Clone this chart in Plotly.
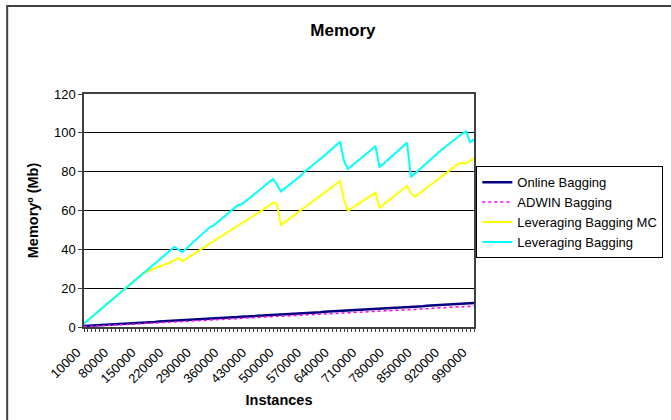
import plotly.graph_objects as go

# Instances processed: 10000 .. 1000000 in steps of 10000
instances = [str(10000 * k) for k in range(1, 101)]
tick_labels = [s if i % 7 == 0 else "" for i, s in enumerate(instances)]

online_bagging = [
    0.5, 0.6, 0.7, 0.9, 1.0, 1.1, 1.2, 1.3, 1.5, 1.6,
    1.7, 1.8, 1.9, 2.0, 2.2, 2.3, 2.4, 2.5, 2.6, 2.8,
    2.9, 3.0, 3.1, 3.2, 3.4, 3.5, 3.6, 3.7, 3.8, 4.0,
    4.1, 4.2, 4.3, 4.4, 4.5, 4.7, 4.8, 4.9, 5.0, 5.1,
    5.3, 5.4, 5.5, 5.6, 5.7, 5.9, 6.0, 6.1, 6.2, 6.3,
    6.5, 6.6, 6.7, 6.8, 6.9, 7.0, 7.2, 7.3, 7.4, 7.5,
    7.6, 7.8, 7.9, 8.0, 8.1, 8.2, 8.4, 8.5, 8.6, 8.7,
    8.8, 9.0, 9.1, 9.2, 9.3, 9.4, 9.5, 9.7, 9.8, 9.9,
    10.0, 10.1, 10.3, 10.4, 10.5, 10.6, 10.7, 10.9, 11.0, 11.1,
    11.2, 11.3, 11.4, 11.6, 11.7, 11.8, 11.9, 12.0, 12.2, 12.3,
]

adwin_bagging = [
    0.2, 0.3, 0.4, 0.5, 0.6, 0.7, 0.8, 0.9, 1.0, 1.1,
    1.3, 1.4, 1.5, 1.6, 1.7, 1.8, 1.9, 2.0, 2.1, 2.2,
    2.3, 2.4, 2.5, 2.6, 2.8, 2.9, 3.0, 3.1, 3.2, 3.3,
    3.4, 3.5, 3.6, 3.7, 3.8, 3.9, 4.0, 4.1, 4.2, 4.3,
    4.5, 4.6, 4.7, 4.8, 4.9, 5.0, 5.1, 5.2, 5.3, 5.4,
    5.5, 5.6, 5.7, 5.8, 5.9, 6.0, 6.1, 6.3, 6.4, 6.5,
    6.6, 6.7, 6.8, 6.9, 7.0, 7.1, 7.2, 7.3, 7.4, 7.5,
    7.6, 7.7, 7.9, 8.0, 8.1, 8.2, 8.3, 8.4, 8.5, 8.6,
    8.7, 8.8, 8.9, 9.0, 9.1, 9.2, 9.3, 9.4, 9.6, 9.7,
    9.8, 9.9, 10.0, 10.1, 10.2, 10.3, 10.4, 10.5, 10.6, 10.8,
]

leveraging_bagging_mc = [
    1.8, 3.5, 5.3, 7.0, 8.7, 10.5, 12.2, 13.9, 15.7, 17.4,
    19.1, 20.8, 22.5, 24.2, 26.0, 27.7, 28.6, 29.4, 30.2, 31.0,
    31.5, 32.4, 33.4, 34.5, 35.6, 33.9, 35.2, 36.5, 37.9, 39.2,
    40.5, 41.8, 43.1, 44.5, 45.8, 47.1, 48.4, 49.6, 50.8, 52.0,
    53.3, 54.6, 55.9, 57.2, 58.5, 59.8, 61.1, 62.5, 64.2, 63.3,
    52.5, 54.0, 55.5, 57.0, 58.5, 60.0, 61.5, 63.0, 64.6, 66.1,
    67.6, 69.1, 70.6, 72.1, 73.6, 75.2, 65.4, 59.9, 61.2, 62.6,
    63.9, 65.2, 66.6, 67.9, 69.2, 61.4, 63.0, 64.6, 66.2, 67.8,
    69.4, 71.0, 72.6, 68.9, 67.1, 68.6, 70.1, 71.6, 73.2, 74.7,
    76.3, 77.8, 79.4, 80.9, 82.5, 84.0, 84.4, 84.2, 85.5, 86.8,
]

leveraging_bagging = [
    1.8, 3.5, 5.3, 7.0, 8.7, 10.5, 12.2, 13.9, 15.7, 17.4,
    19.1, 20.8, 22.5, 24.2, 26.0, 27.7, 29.3, 31.0, 32.7, 34.4,
    36.1, 37.8, 39.6, 41.3, 39.8, 38.6, 40.5, 42.4, 44.3, 46.2,
    48.1, 50.0, 51.5, 52.4, 54.0, 55.8, 57.6, 59.4, 61.2, 62.6,
    63.2, 64.6, 66.3, 68.0, 69.7, 71.4, 73.1, 74.8, 76.2, 73.3,
    69.8, 71.4, 73.0, 74.6, 76.2, 77.9, 80.0, 81.6, 83.0, 84.6,
    86.4, 88.2, 90.0, 91.8, 93.6, 95.4, 85.5, 81.4, 83.0, 84.6,
    86.2, 87.9, 89.6, 91.4, 93.2, 82.4, 84.0, 85.8, 87.6, 89.4,
    91.2, 93.0, 94.9, 77.2, 79.0, 80.9, 82.8, 84.7, 86.6, 88.5,
    90.3, 91.7, 93.2, 94.8, 96.4, 98.0, 99.5, 100.7, 95.2, 96.7,
]

FONT = "Liberation Sans, Arial, sans-serif"

fig = go.Figure()
fig.add_trace(go.Scatter(x=instances, y=online_bagging, name="Online Bagging",
                         mode="lines", line=dict(color="#000080", width=2.5)))
fig.add_trace(go.Scatter(x=instances, y=adwin_bagging, name="ADWIN Bagging",
                         mode="lines", line=dict(color="#FF00FF", width=1.5, dash="dot")))
fig.add_trace(go.Scatter(x=instances, y=leveraging_bagging_mc, name="Leveraging Bagging MC",
                         mode="lines", line=dict(color="#FFFF00", width=2)))
fig.add_trace(go.Scatter(x=instances, y=leveraging_bagging, name="Leveraging Bagging",
                         mode="lines", line=dict(color="#00FFFF", width=2)))

# outer chart border
fig.add_shape(type="rect", xref="paper", yref="paper",
              x0=-0.197, x1=1.55, y0=-0.5, y1=1.378,
              line=dict(color="#404040", width=2), layer="below")

fig.update_layout(
    width=671, height=420,
    margin=dict(l=84, r=197, t=94, b=93, autoexpand=False),
    paper_bgcolor="white", plot_bgcolor="white",
    font=dict(family=FONT, color="black", size=13),
    title=dict(text="<b>Memory</b>", x=0.511, xanchor="center",
               y=0.928, yanchor="middle", yref="container",
               font=dict(size=17, family=FONT)),
    legend=dict(x=1.006, xanchor="left", y=0.69, yanchor="top",
                bordercolor="black", borderwidth=1, bgcolor="white",
                font=dict(size=13, family=FONT), tracegroupgap=0,
                traceorder="normal"),
    showlegend=True,
)

fig.update_xaxes(
    type="category", tickmode="array", tickvals=instances, ticktext=tick_labels,
    tickangle=-45, ticks="outside", ticklen=3, tickcolor="#404040",
    tickfont=dict(size=13, family=FONT),
    ticklabelstandoff=8, ticklabelshift=-7,
    showline=True, linecolor="#404040", linewidth=1.5, mirror=True,
    showgrid=False, zeroline=False,
    title=dict(text="<b>Instances</b>", font=dict(size=14.5, family=FONT), standoff=10),
)
fig.update_yaxes(
    range=[0, 120], dtick=20, ticks="outside", ticklen=4, tickcolor="#404040",
    tickfont=dict(size=13, family=FONT),
    showline=True, linecolor="#404040", linewidth=1.5, mirror=True,
    showgrid=True, gridcolor="black", gridwidth=1, zeroline=False,
    title=dict(text="<b>Memoryº (Mb)</b>", font=dict(size=14.5, family=FONT), standoff=12),
)

fig.write_html("out.html")
